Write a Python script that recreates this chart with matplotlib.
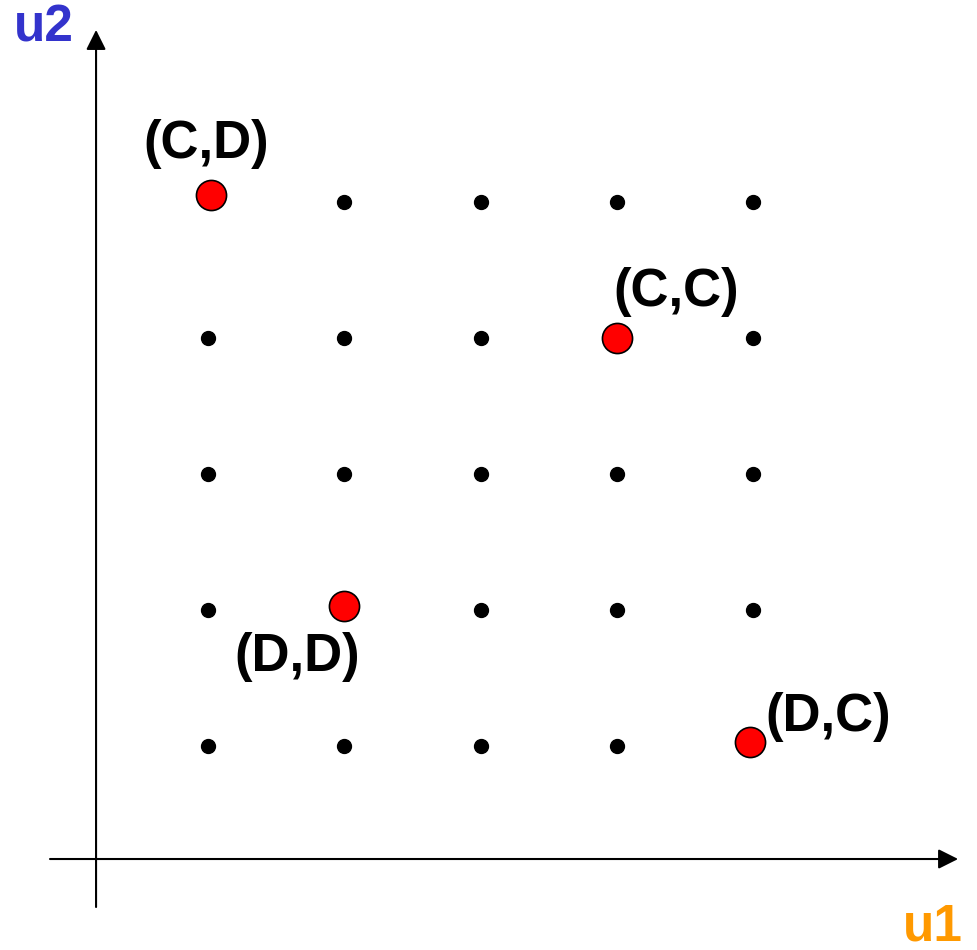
import numpy as np
import matplotlib
matplotlib.use("Agg")
import matplotlib.pyplot as plt

# payoff grid (feasible payoff pairs)
grid_u1 = [1, 2, 3, 4, 5]
grid_u2 = [1, 2, 3, 4, 5]

# outcomes of the game
outcome_labels = ["(C,D)", "(C,C)", "(D,D)", "(D,C)"]
outcome_u1 = [1.02, 4.0, 2.0, 4.98]
outcome_u2 = [5.05, 4.0, 2.03, 1.03]
# label offsets in points
label_dx = [-3, 43, -34, 56]
label_dy = [37, 33, -37, 18]

plt.rcParams['font.family'] = ['Liberation Sans', 'DejaVu Sans']

fig = plt.figure(figsize=(9.78, 9.5), dpi=100)
ax = fig.add_axes([0, 0, 1, 1])
ax.set_xlim(-0.527, 6.651)
ax.set_ylim(-0.5, 6.485)
ax.axis('off')

# axes with arrows
arrow = dict(arrowstyle='-|>', color='black', lw=1.5, mutation_scale=30,
             shrinkA=0, shrinkB=0)
ax.annotate('', xy=(6.505, 0.169), xytext=(-0.16, 0.169), arrowprops=arrow)
ax.annotate('', xy=(0.178, 6.265), xytext=(0.178, -0.184), arrowprops=arrow)

gx, gy = np.meshgrid(grid_u1, grid_u2)
ax.scatter(gx.ravel(), gy.ravel(), s=100, color='black', zorder=3)

ax.scatter(outcome_u1, outcome_u2, s=470, color='#ff0000',
           edgecolors='black', linewidths=1.2, zorder=4)

for lab, x, y, dx, dy in zip(outcome_labels, outcome_u1, outcome_u2,
                             label_dx, label_dy):
    ax.annotate(lab, xy=(x, y), xytext=(dx, dy), textcoords='offset points',
                ha='center', va='center', fontsize=38, fontweight='bold')

ax.text(6.32, -0.331, "u1", color='#ff9900', fontsize=37,
        fontweight='bold', ha='center', va='center')
ax.text(-0.204, 6.279, "u2", color='#3333cc', fontsize=37,
        fontweight='bold', ha='center', va='center')

fig.savefig("out.png", dpi=100)
